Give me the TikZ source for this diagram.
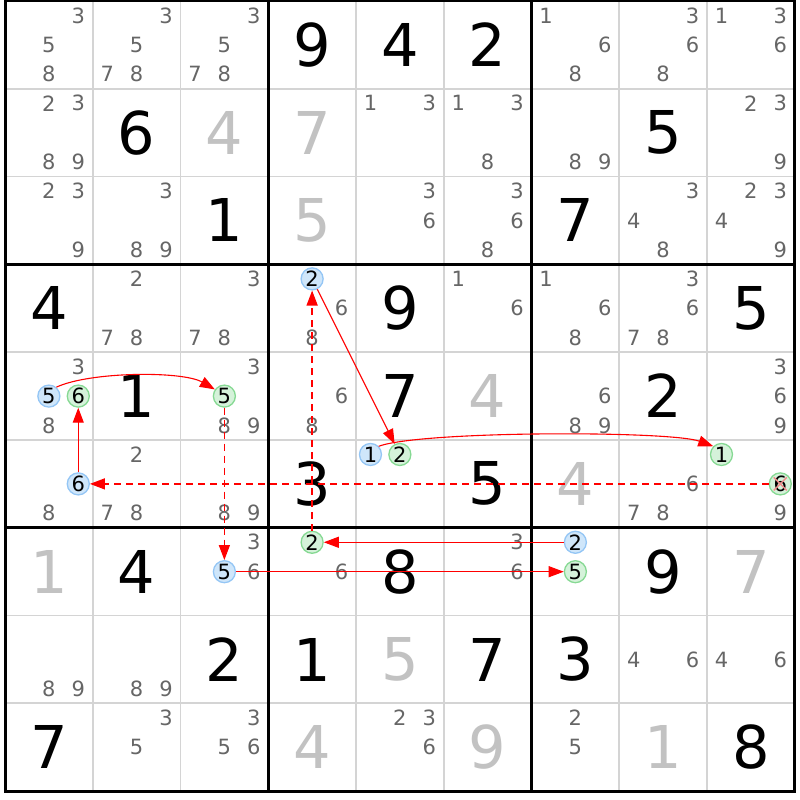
\documentclass[tikz,border=0pt]{standalone}
\usepackage{fontspec}
\setmainfont{DejaVu Sans}
\usetikzlibrary{arrows.meta}

\definecolor{candgray}{HTML}{666666}
\definecolor{solvedgray}{HTML}{C2C2C2}
\definecolor{gridgray}{HTML}{D4D4D4}
\definecolor{onfill}{HTML}{CFE6FA}
\definecolor{onedge}{HTML}{94C6F5}
\definecolor{offfill}{HTML}{D5F2DA}
\definecolor{offedge}{HTML}{86D993}
\definecolor{xred}{HTML}{F08C8C}

\begin{document}
\begin{tikzpicture}[
    x=1pt, y=1pt,
    given/.style={font=\fontsize{59}{59}\selectfont,text=black,inner sep=0pt},
    solved/.style={given,text=solvedgray},
    cand/.style={font=\fontsize{21}{21}\selectfont,text=candgray,inner sep=0pt},
    oncand/.style={circle,draw=onedge,fill=onfill,line width=1.3pt,minimum size=22pt,inner sep=0pt,font=\fontsize{21}{21}\selectfont},
    offcand/.style={oncand,draw=offedge,fill=offfill},
    strong/.style={draw=red,line width=1.1pt,-{Triangle[length=15pt,width=11pt]}},
    weak/.style={strong,line width=1.4pt,dash pattern=on 7pt off 5pt},
    thinline/.style={draw=gridgray,line width=1.8pt},
    boxline/.style={draw=black,line width=3pt}
]
    \fill[white] (0,0) rectangle (800,800);
    \useasboundingbox (0,0) rectangle (800,800);

\begin{scope}[shift={(5,799)}, x=87.75pt, y=87.8pt]
    % Grid: thin cell lines, then box lines
    \foreach \i in {1,2,4,5,7,8} {
        \draw[thinline] (\i,0) -- (\i,-9);
        \draw[thinline] (0,-\i) -- (9,-\i);
    }
    \foreach \i in {3,6} {
        \draw[boxline] (\i,0) -- (\i,-9);
        \draw[boxline] (0,-\i) -- (9,-\i);
    }
    \draw[boxline] (0,0) rectangle (9,-9);

    % Givens (black) and solved cells (gray)
    \foreach \r/\c/\v in {1/4/9, 1/5/4, 1/6/2, 2/2/6, 2/8/5, 3/3/1, 3/7/7, 4/1/4,
        4/5/9, 4/9/5, 5/2/1, 5/5/7, 5/8/2, 6/4/3, 6/6/5, 7/2/4, 7/5/8, 7/8/9,
        8/3/2, 8/4/1, 8/6/7, 8/7/3, 9/1/7, 9/9/8}
        \node[given] (d\r\c) at (\c-0.5,0.5-\r) {\v};
    \foreach \r/\c/\v in {2/3/4, 2/4/7, 3/4/5, 5/6/4, 6/7/4, 7/1/1, 7/9/7,
        8/5/5, 9/4/4, 9/6/9, 9/8/1}
        \node[solved] (d\r\c) at (\c-0.5,0.5-\r) {\v};

    % Pencil marks (chain candidates are drawn below)
    \foreach \r/\c/\ds in {1/1/{3,5,8}, 1/2/{3,5,7,8}, 1/3/{3,5,7,8}, 1/7/{1,6,8},
        1/8/{3,6,8}, 1/9/{1,3,6}, 2/1/{2,3,8,9}, 2/5/{1,3}, 2/6/{1,3,8}, 2/7/{8,9},
        2/9/{2,3,9}, 3/1/{2,3,9}, 3/2/{3,8,9}, 3/5/{3,6}, 3/6/{3,6,8}, 3/8/{3,4,8},
        3/9/{2,3,4,9}, 4/2/{2,7,8}, 4/3/{3,7,8}, 4/4/{6,8}, 4/6/{1,6}, 4/7/{1,6,8},
        4/8/{3,6,7,8}, 5/1/{3,8}, 5/3/{3,8,9}, 5/4/{6,8}, 5/7/{6,8,9}, 5/9/{3,6,9},
        6/1/{8}, 6/2/{2,7,8}, 6/3/{8,9}, 6/8/{6,7,8}, 6/9/{9}, 7/3/{3,6}, 7/4/{6},
        7/6/{3,6}, 8/1/{8,9}, 8/2/{8,9}, 8/8/{4,6}, 8/9/{4,6}, 9/2/{3,5},
        9/3/{3,5,6}, 9/5/{2,3,6}, 9/7/{2,5}}
    {
        \foreach \d in \ds {
            \pgfmathsetmacro{\dx}{(mod(\d-1,3)-1)*0.335}
            \pgfmathsetmacro{\dy}{(1-floor((\d-1)/3))*0.335}
            \node[cand] (n\r\c\d) at (\c-0.5+\dx,0.5-\r+\dy) {\d};
        }
    }

    % Chain candidates: blue = on, green = off
    \node[oncand]  (r4c4-2) at (3.5,-3.165)   {2};
    \node[oncand]  (r5c1-5) at (0.5,-4.5)     {5};
    \node[offcand] (r5c1-6) at (0.835,-4.5)   {6};
    \node[offcand] (r5c3-5) at (2.5,-4.5)     {5};
    \node[oncand]  (r6c1-6) at (0.835,-5.5)   {6};
    \node[oncand]  (r6c5-1) at (4.165,-5.165) {1};
    \node[offcand] (r6c5-2) at (4.5,-5.165)   {2};
    \node[offcand] (r6c9-1) at (8.165,-5.165) {1};
    \node[offcand] (r6c9-6) at (8.835,-5.5)   {6};
    \node[oncand]  (r7c3-5) at (2.5,-6.5)     {5};
    \node[offcand] (r7c4-2) at (3.5,-6.165)   {2};
    \node[oncand]  (r7c7-2) at (6.5,-6.165)   {2};
    \node[offcand] (r7c7-5) at (6.5,-6.5)     {5};

    % Eliminated candidate
    \draw[xred,line width=1.4pt,shorten >=2.5pt,shorten <=2.5pt] (r6c9-6.135) -- (r6c9-6.-45);
    \draw[xred,line width=1.4pt,shorten >=2.5pt,shorten <=2.5pt] (r6c9-6.45) -- (r6c9-6.-135);

    % Links
    \draw[strong] (r5c1-5.50) to[out=25,in=150,looseness=0.6] (r5c3-5.145);
    \draw[weak]   (r5c3-5) -- (r7c3-5);
    \draw[strong] (r7c3-5) -- (r7c7-5);
    \draw[strong] (r7c7-2) -- (r7c4-2);
    \draw[weak]   (r7c4-2) -- (r4c4-2);
    \draw[strong] (r4c4-2) -- (r6c5-2);
    \draw[strong] (r6c5-1.45) to[out=20,in=160,looseness=0.35] (r6c9-1.135);
    \draw[weak]   (r6c9-6) -- (r6c1-6);
    \draw[strong] (r6c1-6) -- (r5c1-6);
\end{scope}
\end{tikzpicture}
\end{document}
